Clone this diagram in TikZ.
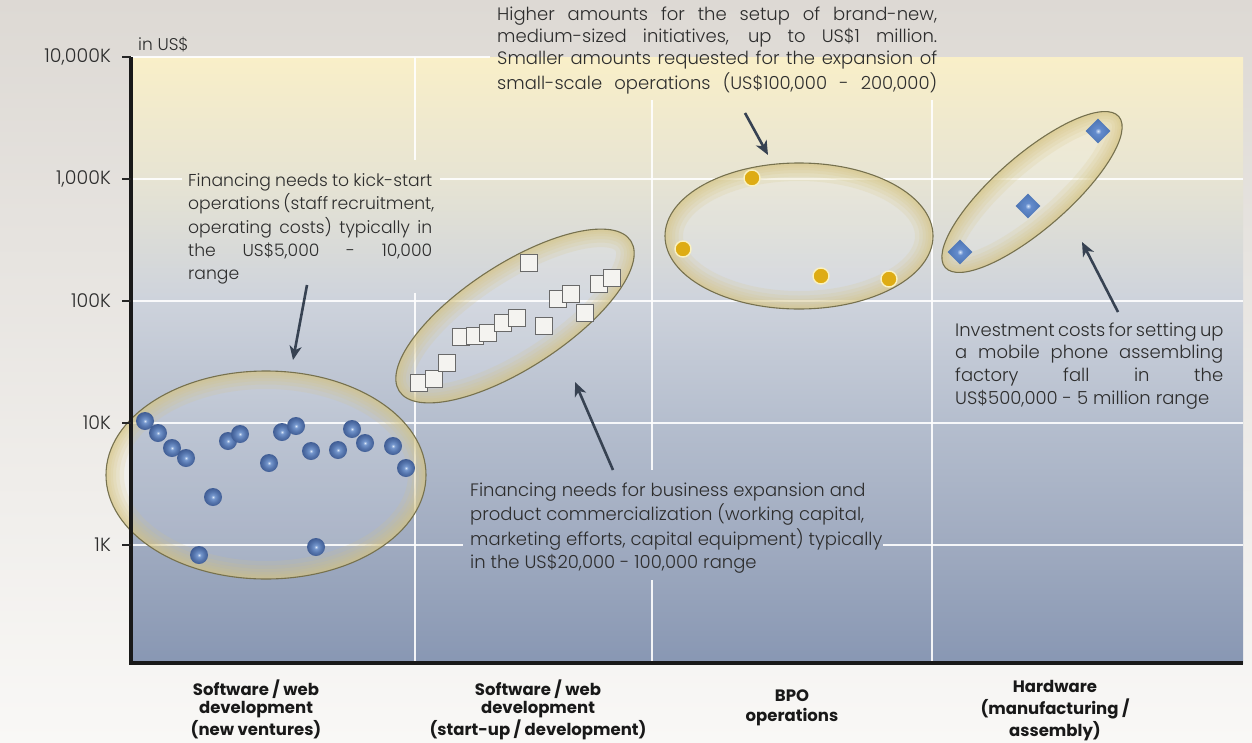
\documentclass[tikz,border=0pt]{standalone}
\usepackage{fontspec}
\setmainfont{Poppins}[UprightFont=* Light, BoldFont=* Bold]
\usetikzlibrary{arrows.meta,shapes.geometric}

% colours
\definecolor{bgtop}{RGB}{221,217,212}
\definecolor{bgbot}{RGB}{249,248,246}
\definecolor{pg0}{RGB}{249,239,200}
\definecolor{pg1}{RGB}{231,228,211}
\definecolor{pg2}{RGB}{206,211,220}
\definecolor{pg3}{RGB}{181,190,206}
\definecolor{pg4}{RGB}{160,171,192}
\definecolor{pg5}{RGB}{136,151,179}
\definecolor{ringtan}{RGB}{214,196,128}
\definecolor{ringline}{RGB}{118,113,78}
\definecolor{arrowc}{RGB}{55,66,82}
\definecolor{txt}{RGB}{45,45,45}
\definecolor{gold}{RGB}{222,172,20}
\definecolor{goldrim}{RGB}{250,241,192}
\definecolor{sqfill}{RGB}{244,243,240}
\definecolor{sqline}{RGB}{105,105,105}
\definecolor{sph0}{RGB}{220,232,248}
\definecolor{sph1}{RGB}{118,152,206}
\definecolor{sph2}{RGB}{86,118,174}
\definecolor{sph3}{RGB}{64,93,148}
\definecolor{dia0}{RGB}{215,230,250}
\definecolor{dia1}{RGB}{100,140,205}
\definecolor{dia2}{RGB}{75,115,178}

% plot area: cream at the top fading to slate blue at the bottom
\pgfdeclareverticalshading{plotbg}{100bp}{color(0bp)=(pg5); color(25bp)=(pg5);
  color(35bp)=(pg4); color(45bp)=(pg3); color(55bp)=(pg2); color(65bp)=(pg1);
  color(75bp)=(pg0); color(100bp)=(pg0)}
\pgfdeclareradialshading{bluesph}{\pgfpoint{0bp}{0bp}}{color(0bp)=(sph0);
  color(5bp)=(sph1); color(15bp)=(sph2); color(25bp)=(sph3); color(50bp)=(sph3)}
\pgfdeclareradialshading{bluedia}{\pgfpoint{0bp}{0bp}}{color(0bp)=(dia0);
  color(6bp)=(dia1); color(25bp)=(dia2); color(50bp)=(dia2)}

% one line of a justified paragraph, and one ragged line
\newcommand\jline[2]{\strut\makebox[#1pt][s]{#2}}
\newcommand\lline[1]{\strut #1}

% translucent cluster ellipse with a soft tan rim
\newcommand\cluster[5]{%
  \begin{scope}[shift={(#1,#2)}, rotate=#5]
    \begin{scope}
      \clip (0,0) ellipse [x radius=#3, y radius=#4];
      \fill[white, opacity=0.12] (0,0) ellipse [x radius=#3, y radius=#4];
      \foreach \w in {36,27,20,14,9,5}
        \draw[ringtan, opacity=0.17, line width=\w pt] (0,0) ellipse [x radius=#3, y radius=#4];
    \end{scope}
    \draw[ringline, line width=1.1pt] (0,0) ellipse [x radius=#3, y radius=#4];
  \end{scope}}

\begin{document}
\begin{tikzpicture}[x=1pt, y=-1pt,
  grid/.style={white, line width=1.6pt, opacity=0.9},
  axisline/.style={black!90, line width=3.4pt, line join=miter},
  tickline/.style={black!85, line width=1.8pt},
  ticklabel/.style={font=\fontsize{19}{22}\selectfont, text=txt, anchor=east, inner sep=0pt},
  unitlabel/.style={font=\fontsize{17}{20}\selectfont, text=txt, anchor=west, inner sep=0pt},
  catlabel/.style={font=\fontsize{16.5}{18}\selectfont\bfseries, text=black!90, align=center, anchor=north, inner sep=0pt},
  note/.style={text=txt, align=left, anchor=north west, inner sep=0pt},
  sphere/.style={circle, minimum size=18pt, inner sep=0pt, shade, shading=bluesph},
  boxmark/.style={rectangle, minimum size=17pt, inner sep=0pt, fill=sqfill, draw=sqline, line width=1.2pt},
  goldmark/.style={circle, minimum size=16pt, inner sep=0pt, fill=gold, draw=goldrim, line width=1.4pt},
  diamark/.style={diamond, aspect=1, minimum size=25pt, inner sep=0pt, shade, shading=bluedia},
  pointer/.style={draw=arrowc, line width=2.6pt, -{Stealth[length=14pt, width=12pt, inset=4pt]}}]

\useasboundingbox (0,0) rectangle (1252,742);

% backdrop and plot area
\shade[top color=bgtop, bottom color=bgbot] (0,0) rectangle (1252,742);
\shade[shading=plotbg] (131,57) rectangle (1243,663);

% grid, interrupted behind the text blocks
\draw[grid] (131,57) -- (490,57);
\draw[grid] (131,179) -- (182,179);
\draw[grid] (440,179) -- (1243,179);
\draw[grid] (131,301) -- (1243,301);
\draw[grid] (131,423) -- (1243,423);
\draw[grid] (131,545) -- (463,545);
\draw[grid] (883,545) -- (1243,545);
\draw[grid] (415,57) -- (415,160);
\draw[grid] (415,293) -- (415,663);
\draw[grid] (652,100) -- (652,470);
\draw[grid] (652,580) -- (652,663);
\draw[grid] (932,100) -- (932,663);

% clusters
\cluster{266}{475}{160}{104}{0}
\cluster{515}{316}{138}{52}{33}
\cluster{799}{236}{134}{73}{0}
\cluster{1032}{192}{115}{37}{41}

% software / web development, new ventures
\node[sphere] (n1) at (145,421) {};
\node[sphere] (n2) at (158,433) {};
\node[sphere] (n3) at (172,448) {};
\node[sphere] (n4) at (186,458) {};
\node[sphere] (n5) at (213,497) {};
\node[sphere] (n6) at (199,555) {};
\node[sphere] (n7) at (228,441) {};
\node[sphere] (n8) at (240,434) {};
\node[sphere] (n9) at (269,463) {};
\node[sphere] (n10) at (282,432) {};
\node[sphere] (n11) at (296,426) {};
\node[sphere] (n12) at (311,451) {};
\node[sphere] (n13) at (316,547) {};
\node[sphere] (n14) at (338,450) {};
\node[sphere] (n15) at (352,429) {};
\node[sphere] (n16) at (365,443) {};
\node[sphere] (n17) at (393,446) {};
\node[sphere] (n18) at (406,468) {};

% software / web development, start-up
\node[boxmark] (d1) at (419,383) {};
\node[boxmark] (d2) at (434,379) {};
\node[boxmark] (d3) at (447,363) {};
\node[boxmark] (d4) at (461,337) {};
\node[boxmark] (d5) at (475,336) {};
\node[boxmark] (d6) at (488,333) {};
\node[boxmark] (d7) at (503,323) {};
\node[boxmark] (d8) at (517,318) {};
\node[boxmark] (d9) at (529,263) {};
\node[boxmark] (d10) at (544,326) {};
\node[boxmark] (d11) at (558,299) {};
\node[boxmark] (d12) at (571,294) {};
\node[boxmark] (d13) at (585,313) {};
\node[boxmark] (d14) at (599,284) {};
\node[boxmark] (d15) at (612,278) {};

% BPO operations
\node[goldmark] (b1) at (752,178) {};
\node[goldmark] (b2) at (683,249) {};
\node[goldmark] (b3) at (821,276) {};
\node[goldmark] (b4) at (889,279) {};

% hardware
\node[diamark] (h1) at (1098,131) {};
\node[diamark] (h2) at (1028,206) {};
\node[diamark] (h3) at (960,252) {};

% axes and ticks
\draw[axisline] (131,57) -- (131,663) -- (1243,663);
\foreach \yy in {57,179,301,423,545} \draw[tickline] (122,\yy) -- (131,\yy);
\node[ticklabel] (y7) at (111,57) {10,000K};
\node[ticklabel] (y6) at (111,179) {1,000K};
\node[ticklabel] (y5) at (111,301) {100K};
\node[ticklabel] (y4) at (111,423) {10K};
\node[ticklabel] (y3) at (111,545) {1K};
\node[unitlabel] (unit) at (138,45) {in US\$};

% category labels
\node[catlabel] (c1) at (256,680) {\strut Software / web\\\strut development\\\strut (new ventures)};
\node[catlabel] (c2) at (538,680) {\strut Software / web\\\strut development\\\strut (start-up / development)};
\node[catlabel] (c3) at (792,689) {\strut BPO\\\strut operations};
\node[catlabel] (c4) at (1055,680) {\strut Hardware\\\strut (manufacturing /\\\strut assembly)};

% notes
\node[note, font=\fontsize{18}{22}\selectfont] (top) at (497,5) {%
  \jline{440}{Higher amounts for the setup of brand-new,}\\
  \jline{440}{medium-sized initiatives, up to US\$1 million.}\\
  \jline{440}{Smaller amounts requested for the expansion of}\\
  \jline{440}{small-scale operations (US\$100,000 - 200,000)}};
\node[note, font=\fontsize{17.2}{23.3}\selectfont] (kick) at (188,170) {%
  \jline{244}{Financing needs to kick-start}\\
  \jline{244}{operations (staff recruitment,}\\
  \jline{244}{operating costs) typically in}\\
  \jline{244}{the US\$5,000 - 10,000}\\
  \lline{range}};
\node[note, font=\fontsize{18}{22.7}\selectfont] (grow) at (470,480) {%
  \lline{Financing needs for business expansion and}\\
  \lline{product commercialization (working capital,}\\
  \lline{marketing efforts, capital equipment) typically}\\
  \lline{in the US\$20,000 - 100,000 range}};
\node[note, font=\fontsize{18}{22.7}\selectfont] (hw) at (955,320) {%
  \jline{268}{Investment costs for setting up}\\
  \jline{268}{a mobile phone assembling}\\
  \jline{268}{factory fall in the}\\
  \lline{US\$500,000 - 5 million range}};

% pointers
\coordinate (p1s) at (307,285); \coordinate (p1e) at (293,360);
\coordinate (p2s) at (745,113); \coordinate (p2e) at (768,155);
\coordinate (p3s) at (613,470); \coordinate (p3e) at (575,382);
\coordinate (p4s) at (1118,312); \coordinate (p4e) at (1082,242);
\draw[pointer] (p1s) -- (p1e);
\draw[pointer] (p2s) -- (p2e);
\draw[pointer] (p3s) -- (p3e);
\draw[pointer] (p4s) -- (p4e);
\end{tikzpicture}
\end{document}
